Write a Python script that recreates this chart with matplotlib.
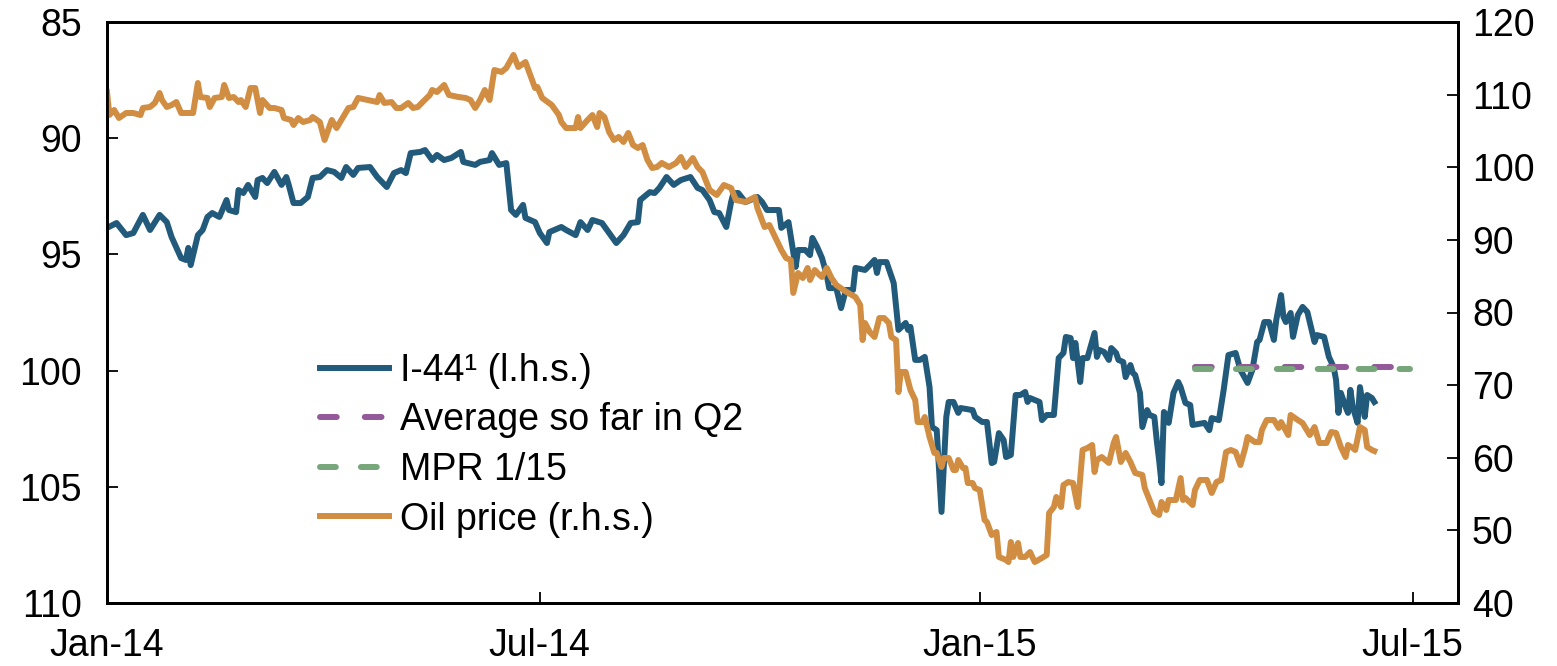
import pandas as pd
import matplotlib
matplotlib.use("Agg")
from matplotlib import pyplot as plt
import matplotlib.dates as mdates

plt.rcParams['font.family'] = ['Liberation Sans', 'DejaVu Sans']

start = pd.Timestamp("2014-01-01")

# I-44 (l.h.s.); days counted from 1 Jan 2014
i44_days = [0, 4, 8, 11, 15, 18, 22, 25, 27, 31,
            33, 34, 35, 38, 40, 42, 44, 47, 50, 51,
            54, 55, 57, 59, 62, 63, 65, 67, 70, 73,
            75, 76, 78, 81, 84, 86, 89, 92, 95, 98,
            100, 103, 105, 110, 113, 117, 120, 123, 125, 127,
            131, 133, 136, 138, 141, 144, 148, 149, 154, 156,
            160, 161, 164, 167, 169, 171, 174, 175, 179, 181,
            184, 185, 190, 192, 196, 198, 201, 203, 207, 213,
            216, 219, 222, 223, 227, 229, 231, 234, 237, 240,
            244, 247, 249, 252, 254, 256, 259, 261, 262, 264,
            267, 272, 274, 276, 281, 282, 285, 288, 289, 292,
            294, 295, 297, 299, 301, 302, 305, 307, 309, 312,
            313, 317, 319, 321, 322, 323, 326, 329, 331, 334,
            335, 336, 338, 340, 342, 344, 345, 347, 349, 351,
            352, 354, 356, 357, 362, 363, 366, 368, 370, 371,
            373, 375, 376, 378, 380, 382, 384, 385, 386, 390,
            391, 393, 396, 398, 400, 401, 403, 404, 405, 407,
            408, 410, 413, 414, 415, 417, 419, 420, 422, 423,
            425, 426, 428, 429, 430, 432, 433, 435, 436, 438,
            439, 440, 441, 442, 443, 444, 446, 448, 449, 451,
            453, 454, 459, 461, 462, 465, 467, 469, 472, 474,
            477, 479, 481, 482, 484, 486, 488, 489, 491, 492,
            493, 495, 496, 498, 500, 502, 505, 506, 509, 511,
            513, 514, 515, 516, 518, 519, 520, 521, 523, 524,
            526, 527, 529, 530]
i44_vals = [93.86, 93.65, 94.17, 94.08, 93.30, 93.95, 93.30, 93.61, 94.25, 95.16,
            95.24, 94.72, 95.46, 94.17, 93.95, 93.39, 93.22, 93.39, 92.66, 93.09,
            93.18, 92.23, 92.36, 92.01, 92.53, 91.80, 91.71, 91.93, 91.45, 92.01,
            91.67, 92.01, 92.79, 92.79, 92.53, 91.71, 91.67, 91.37, 91.45, 91.71,
            91.24, 91.58, 91.28, 91.24, 91.67, 92.10, 91.50, 91.37, 91.50, 90.64,
            90.59, 90.51, 90.94, 90.72, 90.94, 90.85, 90.59, 91.02, 91.15, 91.02,
            90.94, 90.64, 91.15, 91.07, 93.09, 93.30, 92.87, 93.43, 93.61, 94.08,
            94.51, 94.04, 93.82, 93.95, 94.17, 93.61, 93.95, 93.52, 93.65, 94.51,
            94.17, 93.65, 93.61, 92.66, 92.32, 92.36, 92.14, 91.67, 92.01, 91.80,
            91.67, 92.14, 92.23, 92.66, 93.18, 93.22, 93.82, 92.75, 92.36, 92.36,
            92.75, 92.53, 92.75, 93.09, 93.09, 93.86, 93.61, 95.54, 94.81, 94.81,
            95.03, 94.29, 94.68, 95.15, 95.89, 96.45, 96.45, 97.31, 96.53, 96.53,
            95.58, 95.67, 95.46, 95.24, 95.80, 95.33, 95.33, 96.23, 98.25, 97.95,
            98.25, 98.12, 99.54, 99.54, 99.41, 100.71, 102.43, 102.56, 106.08, 101.99,
            101.35, 101.35, 101.82, 101.61, 101.70, 101.99, 102.21, 102.21, 103.98, 103.93,
            102.69, 102.99, 103.72, 103.63, 101.05, 101.05, 100.92, 101.35, 101.18, 101.35,
            102.13, 101.91, 101.91, 99.46, 99.24, 98.55, 98.60, 99.46, 98.81, 100.49,
            99.46, 99.46, 98.38, 99.41, 99.11, 99.20, 99.54, 99.03, 99.24, 99.54,
            99.63, 100.28, 99.76, 100.10, 100.19, 100.96, 102.43, 101.70, 101.91, 101.99,
            102.99, 103.85, 104.84, 101.78, 101.91, 102.25, 100.96, 100.49, 100.71, 101.39,
            101.48, 102.34, 102.25, 102.56, 102.04, 102.13, 100.83, 99.33, 99.24, 99.97,
            100.53, 99.97, 98.77, 98.68, 97.91, 97.91, 98.68, 97.82, 96.75, 97.69,
            97.91, 97.52, 98.55, 97.61, 97.26, 97.48, 98.77, 98.47, 98.55, 99.41,
            99.85, 100.40, 101.82, 100.96, 101.57, 101.82, 100.83, 101.57, 102.25, 100.71,
            101.99, 101.05, 101.18, 101.35]

# Oil price (r.h.s.)
oil_days = [0, 1, 3, 5, 8, 11, 14, 15, 18, 20,
            22, 23, 25, 27, 29, 31, 36, 38, 39, 42,
            43, 45, 48, 49, 51, 53, 55, 56, 58, 60,
            62, 64, 65, 68, 70, 73, 74, 77, 78, 80,
            82, 85, 86, 89, 91, 94, 96, 98, 101, 103,
            105, 109, 113, 114, 116, 119, 121, 123, 126, 128,
            130, 132, 135, 136, 138, 141, 143, 147, 150, 152,
            154, 156, 158, 160, 162, 165, 167, 170, 172, 175,
            177, 179, 180, 182, 186, 189, 190, 192, 196, 197,
            198, 201, 203, 205, 206, 208, 210, 212, 214, 216,
            218, 220, 222, 224, 226, 228, 230, 232, 235, 238,
            240, 242, 245, 247, 249, 252, 255, 258, 261, 263,
            267, 271, 272, 275, 277, 279, 282, 284, 286, 287,
            289, 291, 293, 294, 296, 298, 299, 301, 303, 305,
            308, 310, 313, 315, 316, 317, 319, 321, 323, 325,
            327, 328, 330, 331, 332, 334, 336, 338, 339, 341,
            342, 344, 346, 347, 349, 350, 352, 354, 355, 356,
            358, 359, 360, 362, 363, 365, 367, 368, 370, 372,
            373, 376, 377, 378, 379, 381, 382, 384, 386, 388,
            391, 393, 394, 396, 397, 399, 400, 402, 404, 406,
            408, 410, 412, 413, 414, 416, 419, 421, 422, 424,
            426, 428, 430, 433, 434, 436, 438, 440, 441, 443,
            444, 447, 449, 450, 451, 454, 455, 457, 460, 462,
            464, 466, 468, 470, 472, 474, 476, 477, 480, 482,
            483, 485, 488, 490, 491, 494, 495, 498, 500, 503,
            505, 507, 510, 512, 514, 516, 518, 519, 521, 522,
            524, 526, 527, 529, 530]
oil_vals = [110.36, 107.20, 107.88, 106.78, 107.47, 107.47, 107.19, 108.16, 108.30, 108.85,
            110.22, 109.26, 108.30, 108.57, 108.98, 107.47, 107.47, 111.60, 109.67, 109.54,
            108.30, 109.54, 109.67, 111.33, 109.54, 109.67, 108.98, 109.26, 108.30, 110.91,
            110.91, 107.47, 109.26, 108.16, 108.16, 107.88, 106.78, 106.51, 105.82, 106.78,
            106.23, 106.51, 106.92, 106.23, 103.75, 106.51, 105.40, 106.51, 108.16, 108.30,
            109.54, 109.26, 108.98, 109.95, 108.85, 108.98, 108.16, 108.16, 108.85, 108.16,
            108.30, 108.98, 109.95, 110.64, 110.36, 111.33, 109.95, 109.67, 109.54, 109.26,
            108.16, 109.26, 110.64, 109.26, 113.39, 113.12, 113.67, 115.46, 113.80, 114.49,
            112.70, 110.91, 111.05, 109.54, 108.57, 107.19, 106.23, 105.40, 105.40, 106.92,
            105.40, 106.51, 107.19, 105.54, 107.47, 106.92, 104.85, 103.75, 104.17, 103.48,
            104.72, 103.06, 102.65, 103.06, 101.00, 99.90, 100.03, 100.59, 100.03, 100.59,
            101.41, 100.03, 101.27, 100.03, 99.35, 96.87, 96.18, 97.56, 97.14, 95.49,
            95.22, 95.90, 94.39, 91.77, 92.05, 90.67, 88.61, 87.50, 87.23, 82.69,
            85.44, 84.75, 86.13, 84.48, 85.85, 85.16, 84.89, 86.13, 84.75, 83.79,
            83.10, 82.69, 82.13, 81.03, 76.21, 78.55, 77.31, 76.63, 79.24, 79.24,
            78.55, 76.63, 76.21, 69.05, 71.81, 71.81, 69.33, 67.95, 64.92, 64.92,
            65.61, 62.86, 60.66, 60.66, 58.73, 59.97, 59.97, 58.31, 58.31, 59.69,
            58.59, 58.59, 56.52, 56.52, 55.83, 55.56, 51.43, 51.15, 49.36, 49.78,
            46.34, 45.92, 45.64, 48.40, 46.34, 48.26, 46.34, 46.34, 47.02, 45.64,
            46.20, 46.61, 52.39, 53.22, 54.60, 53.22, 56.25, 56.66, 56.52, 53.22,
            61.07, 61.34, 61.76, 58.04, 59.69, 60.10, 59.28, 62.03, 62.86, 59.42,
            60.66, 59.42, 57.90, 57.63, 55.83, 54.18, 52.53, 52.12, 53.91, 52.81,
            54.18, 54.18, 57.21, 54.18, 54.46, 53.49, 55.56, 56.94, 56.94, 55.15,
            56.66, 56.94, 60.79, 61.07, 60.79, 59.00, 61.34, 62.86, 62.17, 62.17,
            63.82, 65.20, 65.20, 64.10, 64.92, 63.13, 65.89, 65.20, 64.78, 63.13,
            64.23, 62.03, 62.03, 63.55, 63.41, 61.48, 60.10, 61.76, 61.34, 61.07,
            64.23, 63.82, 61.48, 61.07, 60.93]

q2_dates = ["2015-04-01", "2015-06-30"]
avg_q2 = 99.85
mpr_115 = 99.95

labels = ["I-44\u00b9 (l.h.s.)", "Average so far in Q2", "MPR 1/15", "Oil price (r.h.s.)"]
xticks = ["2014-01-01", "2014-07-01", "2015-01-01", "2015-07-01"]

c_blue = "#225A7B"
c_orange = "#D18D42"
c_purple = "#94599A"
c_green = "#76A67A"

i44_dates = start + pd.to_timedelta(i44_days, unit="D")
oil_dates = start + pd.to_timedelta(oil_days, unit="D")
q2 = pd.to_datetime(q2_dates)

fig = plt.figure(figsize=(15.57, 6.66), dpi=100)
ax = fig.add_axes([107 / 1557, 1 - 603 / 666, (1458 - 107) / 1557, (603 - 22) / 666])
ax2 = ax.twinx()

lw = 4.3
l1, = ax.plot(i44_dates, i44_vals, color=c_blue, lw=lw, solid_joinstyle="round")
l2, = ax.plot(q2, [avg_q2, avg_q2], color=c_purple, lw=lw, dashes=(2.8, 4.7),
              dash_capstyle="round")
l3, = ax.plot(q2, [mpr_115, mpr_115], color=c_green, lw=lw, dashes=(2.65, 4.2),
              dash_capstyle="round")
l4, = ax2.plot(oil_dates, oil_vals, color=c_orange, lw=lw, solid_joinstyle="round")

ax.set_ylim(110, 85)
ax.set_yticks([85, 90, 95, 100, 105, 110])
ax2.set_ylim(40, 120)
ax2.set_yticks(range(40, 121, 10))
ax.set_xlim(pd.Timestamp("2014-01-01"), pd.Timestamp("2015-07-20"))
ax.set_xticks(pd.to_datetime(xticks))
ax.xaxis.set_major_formatter(mdates.DateFormatter("%b-%y"))

fs = 27
for a in (ax, ax2):
    for s in a.spines.values():
        s.set_linewidth(2.0)
ax.tick_params(axis="both", direction="in", length=8, width=1.3, labelsize=fs)
ax.tick_params(axis="y", pad=18)
ax.tick_params(axis="x", pad=18)
ax2.tick_params(axis="y", direction="in", length=8, width=1.3, labelsize=fs, pad=10)

fig.legend([l1, l2, l3, l4], labels, loc="upper left",
           bbox_to_anchor=(320 / 1557, 1 - 353 / 666), frameon=False,
           fontsize=fs, handlelength=1.85, handletextpad=0.27,
           labelspacing=0.36, borderpad=0, borderaxespad=0)

fig.savefig("out.png", dpi=100)
